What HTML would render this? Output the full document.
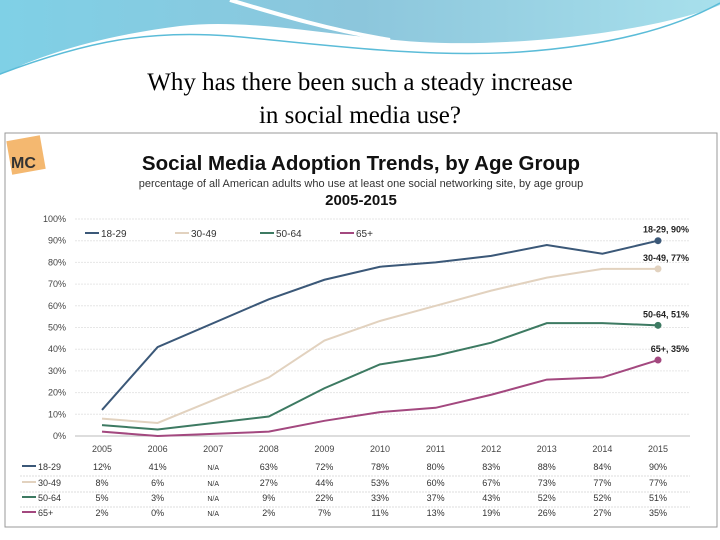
<!DOCTYPE html>
<html><head><meta charset="utf-8"><style>
body{margin:0;width:720px;height:540px;background:#fff;overflow:hidden;font-family:"Liberation Sans",sans-serif;position:relative}
</style></head><body>
<svg width="720" height="540" style="position:absolute;left:0;top:0">
<defs><linearGradient id="gb" x1="0" x2="1" y1="0" y2="0"><stop offset="0" stop-color="#7fd0e6"/><stop offset="0.5" stop-color="#8cc6dc"/><stop offset="1" stop-color="#a8e0ec"/></linearGradient></defs>
<g>
<path d="M0 0 H720 V5 C660 30 520 48 420 42 C330 36 250 18 180 26 C100 36 40 55 0 75 Z" fill="url(#gb)"/>
<path d="M230 0 C280 15 330 30 390 40" stroke="#fff" stroke-width="4" fill="none"/>
<path d="M0 74 C90 40 150 30 230 36 C330 45 420 58 520 52 C620 45 680 25 720 3" stroke="#5bbcd8" stroke-width="1.5" fill="none"/>
</g>
<text x="360" y="90" text-anchor="middle" font-family="Liberation Serif,serif" font-size="25" fill="#000">Why has there been such a steady increase</text>
<text x="360" y="123" text-anchor="middle" font-family="Liberation Serif,serif" font-size="25" fill="#000">in social media use?</text>
<rect x="5" y="133" width="712" height="394" fill="#fff" stroke="#999" stroke-width="1"/>
<g><rect x="9" y="138" width="34" height="34" fill="#f4b870" transform="rotate(-10 26 155)"/><text x="11" y="168" font-size="16" font-weight="bold" fill="#333">MC</text></g>
<text x="361" y="170" text-anchor="middle" font-size="20.5" font-weight="bold" fill="#111">Social Media Adoption Trends, by Age Group</text>
<text x="361" y="187" text-anchor="middle" font-size="11" fill="#333">percentage of all American adults who use at least one social networking site, by age group</text>
<text x="361" y="205" text-anchor="middle" font-size="15" font-weight="bold" fill="#111">2005-2015</text>
<g id="plot"></g>
</svg>
<script>
const years=["2005","2006","2007","2008","2009","2010","2011","2012","2013","2014","2015"];
const names=["18-29","30-49","50-64","65+"];
const colors=["#3b5878","#e2d2bf","#3d7a62","#a3487f"];
const s1829=[12,41,null,63,72,78,80,83,88,84,90];
const s3049=[8,6,null,27,44,53,60,67,73,77,77];
const s5064=[5,3,null,9,22,33,37,43,52,52,51];
const s65=[2,0,null,2,7,11,13,19,26,27,35];
const series=[s1829,s3049,s5064,s65];
const yTicks=[0,10,20,30,40,50,60,70,80,90,100];
const ns="http://www.w3.org/2000/svg",g=document.getElementById("plot");
const X=i=>102+i*55.6, Y=v=>436-v*2.17;
function mk(t,a,txt){const e=document.createElementNS(ns,t);for(const k in a)e.setAttribute(k,a[k]);if(txt!=null)e.textContent=txt;g.appendChild(e);return e;}
yTicks.forEach(v=>{
 const l=mk("line",{x1:75,x2:690,y1:Y(v),y2:Y(v),stroke:v==0?"#bbb":"#e6e6e6","stroke-dasharray":v==0?"":"2,1"});
 
 
 const t=mk("text",{x:66,y:Y(v)+3,"text-anchor":"end","font-size":9,fill:"#444"},v+"%");
 
 
});
series.forEach((s,k)=>{
 const pts=s.map((v,i)=>v==null?null:X(i)+","+Y(v)).filter(p=>p);
 const p=mk("polyline",{points:pts.join(" "),fill:"none",stroke:colors[k],"stroke-width":2});
 
 
 const last=s.length-1;
 const c=mk("circle",{cx:X(last),cy:Y(s[last]),r:3.5,fill:colors[k]});
 
 
 const lab=mk("text",{x:689,y:Y(s[last])-8,"text-anchor":"end","font-size":9,"font-weight":"bold",fill:"#222"},names[k]+", "+s[last]+"%");
 
 
 const lx=85+[0,90,175,255][k];
 const ll=mk("line",{x1:lx,x2:lx+14,y1:233,y2:233,stroke:colors[k],"stroke-width":2});
 
 
 const lt=mk("text",{x:lx+16,y:237,"font-size":10,fill:"#333"},names[k]);
 
 
 const ry=[469,485,500,515][k];
 const tl=mk("line",{x1:22,x2:36,y1:ry-3,y2:ry-3,stroke:colors[k],"stroke-width":2});
 
 
 const tn=mk("text",{x:38,y:ry+1,"font-size":9,fill:"#333"},names[k]);
 
 
 if(k<3){const sep=mk("line",{x1:20,x2:690,y1:ry+7,y2:ry+7,stroke:"#ddd","stroke-dasharray":"2,1"});}
 s.forEach((v,i)=>{
  const tv=mk("text",{x:X(i),y:ry+1,"text-anchor":"middle","font-size":v==null?7:9,fill:"#333"},v==null?"N/A":v+"%");
  
  
 });
});
years.forEach((y,i)=>{
 const t=mk("text",{x:X(i),y:452,"text-anchor":"middle","font-size":9,fill:"#444"},y);
 
 
});
</script>
</body></html>
